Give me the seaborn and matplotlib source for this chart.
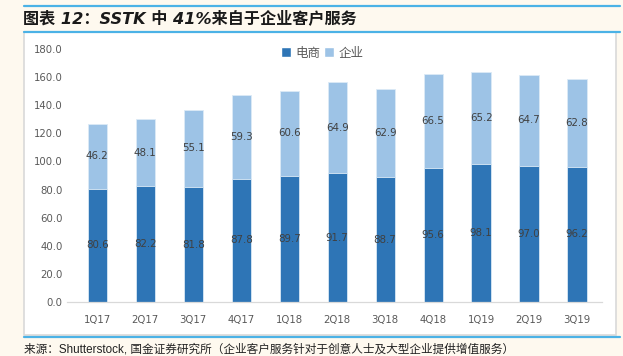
import numpy as np
import pandas as pd
import matplotlib
import matplotlib.pyplot as plt
import seaborn as sns
from matplotlib.patches import Rectangle, Patch
from matplotlib.lines import Line2D

# data
quarters = ['1Q17', '2Q17', '3Q17', '4Q17', '1Q18', '2Q18', '3Q18', '4Q18', '1Q19', '2Q19', '3Q19']
ecommerce = [80.6, 82.2, 81.8, 87.8, 89.7, 91.7, 88.7, 95.6, 98.1, 97.0, 96.2]
enterprise = [46.2, 48.1, 55.1, 59.3, 60.6, 64.9, 62.9, 66.5, 65.2, 64.7, 62.8]
series_names = ['电商', '企业']
y_ticks = [0, 20, 40, 60, 80, 100, 120, 140, 160, 180]

title_text = '图表 12：SSTK 中 41%来自于企业客户服务'
source_text = '来源：Shutterstock, 国金证券研究所（企业客户服务针对于创意人士及大型企业提供增值服务）'

sns.set_theme(style='white')
plt.rcParams['font.family'] = ['DejaVu Sans', 'Noto Sans CJK SC']

DARK = '#2E75B6'
LIGHT = '#9DC3E6'
CREAM = '#FEF9EF'
LINE_BLUE = '#4BB2E6'

W, H = 623, 356


def fx(px):
    return px / W


def fy(py):
    return 1 - py / H


df = pd.DataFrame({'quarter': quarters, 'ecom': ecommerce, 'ent': enterprise})
df['total'] = df['ecom'] + df['ent']

fig = plt.figure(figsize=(W / 100, H / 100), dpi=100, facecolor=CREAM)

# white panel with light border
fig.add_artist(Rectangle((fx(24), fy(335)), fx(616) - fx(24), fy(32) - fy(335),
                         transform=fig.transFigure, facecolor='white',
                         edgecolor='#D9D9D9', linewidth=1.2, zorder=0))
# blue rules
for py in (5.5, 32, 337):
    fig.add_artist(Line2D([fx(24), fx(620)], [fy(py), fy(py)], transform=fig.transFigure,
                          color=LINE_BLUE, linewidth=1.6, zorder=1))

fig.text(fx(23), fy(18), title_text, fontsize=11.6, fontweight='bold', color='#1a1a1a',
         va='center', ha='left', family=['DejaVu Sans', 'Noto Sans CJK SC'], style='italic')
fig.text(fx(24), fy(349), source_text, fontsize=8.4, color='#222222',
         va='center', ha='left', family=['Liberation Sans', 'Noto Sans CJK SC'])

ax = fig.add_axes([fx(67), fy(302), fx(602) - fx(67), fy(49) - fy(302)])
ax.set_facecolor('none')

sns.barplot(data=df, x='quarter', y='total', color=LIGHT, width=0.4, ax=ax,
            edgecolor='#DCEAF6', linewidth=0.6, saturation=1)
sns.barplot(data=df, x='quarter', y='ecom', color=DARK, width=0.4, ax=ax,
            edgecolor='#DCEAF6', linewidth=0.6, saturation=1)

for i, row in df.iterrows():
    ax.text(i, row['ecom'] / 2, f"{row['ecom']:.1f}", ha='center', va='center',
            fontsize=7.4, color='#404040')
    ax.text(i, row['ecom'] + row['ent'] / 2, f"{row['ent']:.1f}", ha='center', va='center',
            fontsize=7.4, color='#404040')

ax.set_ylim(0, 180)
ax.set_xlim(-0.63, 10.52)
ax.set_yticks(y_ticks)
ax.set_yticklabels([f'{v:.1f}' for v in y_ticks])
ax.set_xlabel('')
ax.set_ylabel('')
ax.tick_params(axis='both', length=0, labelsize=7.3, labelcolor='#595959')
ax.tick_params(axis='x', pad=9)
ax.tick_params(axis='y', pad=3)
for side in ('top', 'right', 'left'):
    ax.spines[side].set_visible(False)
ax.spines['bottom'].set_color('#D9D9D9')
ax.spines['bottom'].set_linewidth(0.9)

handles = [Patch(facecolor=DARK), Patch(facecolor=LIGHT)]
fig.legend(handles, series_names, loc='center', bbox_to_anchor=(fx(322), fy(53)),
           ncol=2, frameon=False, handlelength=0.8, handleheight=0.8,
           handletextpad=0.35, columnspacing=0.3, labelcolor='#595959',
           prop={'family': ['Noto Sans CJK SC'], 'size': 9})

fig.savefig('out.png', dpi=100, facecolor=CREAM)
